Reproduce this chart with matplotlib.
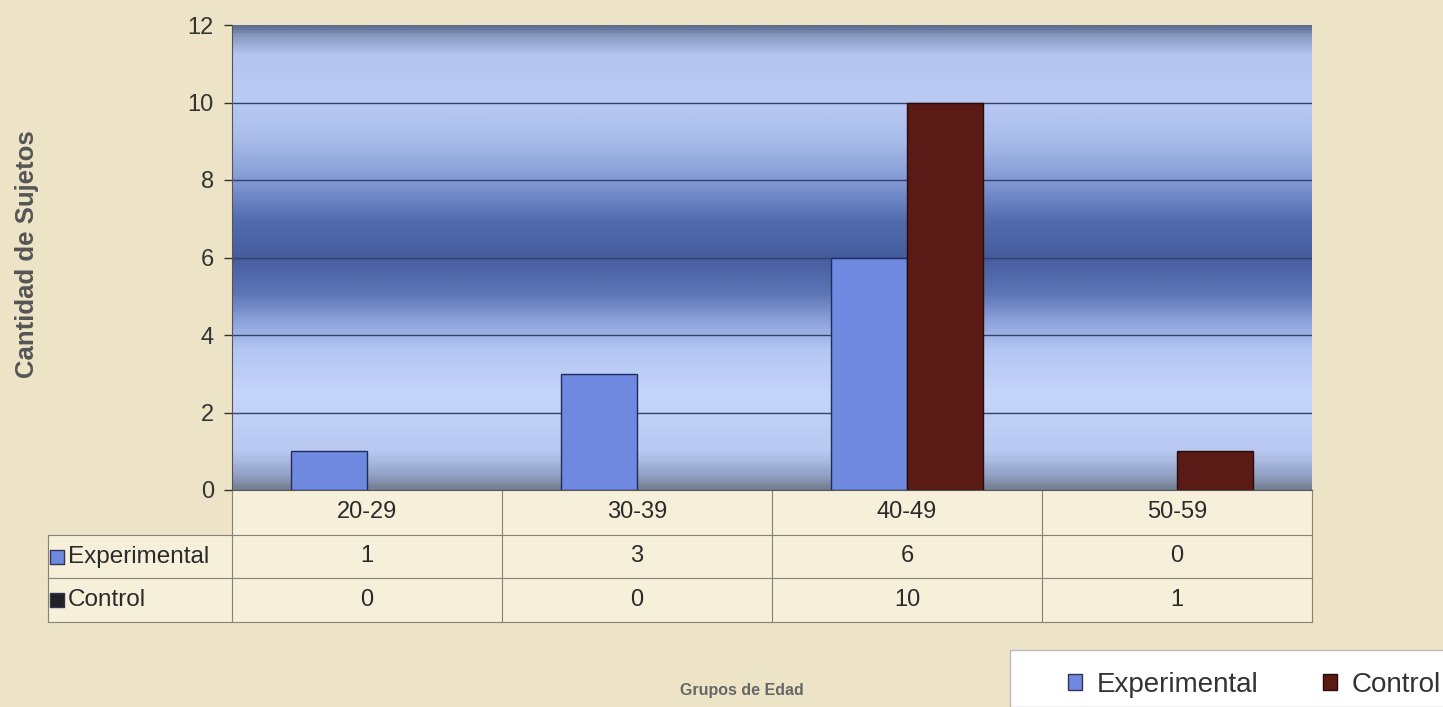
import numpy as np
import matplotlib
matplotlib.use("Agg")
import matplotlib.pyplot as plt
from matplotlib.colors import LinearSegmentedColormap
from matplotlib.patches import Patch, Rectangle

# Datos
grupos = ['20-29', '30-39', '40-49', '50-59']
experimental = [1, 3, 6, 0]
control = [0, 0, 10, 1]
series = ['Experimental', 'Control']

col_exp = '#6f88e0'
col_ctl = '#5a1a16'
fondo = '#ede3c6'
fondo_tabla = '#f6f0da'
linea_tabla = '#85827a'

plt.rcParams['font.family'] = ['Liberation Sans', 'DejaVu Sans']

W, H = 1443, 707
fig = plt.figure(figsize=(W / 100, H / 100), dpi=100, facecolor=fondo)
ax = fig.add_axes([232 / W, 1 - 490 / H, 1080 / W, 465 / H])
ax.set_facecolor('#b8c8f0')

# Degradado del fondo del area de trazado
paradas = [
    (0.00, '#747e92'), (0.03, '#93a3c6'), (0.08, '#b8c8f0'), (0.20, '#c6d5fa'),
    (0.30, '#b4c6f2'), (0.36, '#8ea4dc'), (0.42, '#5e76b6'), (0.50, '#455d9e'),
    (0.58, '#536cae'), (0.66, '#7e96d2'), (0.75, '#a8bbea'), (0.85, '#bccbf4'),
    (0.94, '#b4c4ee'), (0.98, '#8898c0'), (1.00, '#5f6f90'),
]
cmap = LinearSegmentedColormap.from_list('fondo_graf', paradas)
grad = np.linspace(0, 1, 400).reshape(-1, 1)
ax.imshow(grad, cmap=cmap, origin='lower', aspect='auto',
          extent=[-0.5, len(grupos) - 0.5, 0, 12], zorder=0)

# Lineas de division
for yv in range(2, 12, 2):
    ax.axhline(yv, color='#34426a', lw=1.0, zorder=1)

# Barras (sin borde cuando el valor es cero)
x = np.arange(len(grupos))
w = 0.28
ax.bar(x - w / 2, experimental, w, color=col_exp, edgecolor='#1c2c5c',
       linewidth=[1.0 if v else 0 for v in experimental], zorder=2)
ax.bar(x + w / 2, control, w, color=col_ctl, edgecolor='#2a0a08',
       linewidth=[1.0 if v else 0 for v in control], zorder=2)

ax.set_xlim(-0.5, len(grupos) - 0.5)
ax.set_ylim(0, 12)
ax.set_yticks(range(0, 13, 2))
ax.set_xticks([])
ax.tick_params(axis='y', labelsize=17, colors='#333333', length=6, width=1, pad=7)
for s in ['top', 'right']:
    ax.spines[s].set_visible(False)
ax.spines['left'].set_color('#555555')
ax.spines['bottom'].set_color('#555555')

# Tabla de datos (coordenadas de ejes)
n = len(grupos)
y_hdr = -45 / 465
y_r1 = -88 / 465
y_r2 = -132 / 465
x_lab = -184 / 1080
T = ax.transAxes

ax.add_patch(Rectangle((0, y_r2), 1, -y_r2, transform=T, facecolor=fondo_tabla,
                       edgecolor='none', clip_on=False, zorder=0))
ax.add_patch(Rectangle((x_lab, y_r2), -x_lab, y_hdr - y_r2, transform=T,
                       facecolor=fondo_tabla, edgecolor='none', clip_on=False, zorder=0))
for i in range(n + 1):
    ax.plot([i / n, i / n], [0, y_r2], transform=T, color=linea_tabla, lw=0.8, clip_on=False)
ax.plot([x_lab, x_lab], [y_hdr, y_r2], transform=T, color=linea_tabla, lw=0.8, clip_on=False)
for yy in [y_hdr, y_r1, y_r2]:
    ax.plot([x_lab, 1], [yy, yy], transform=T, color=linea_tabla, lw=0.8, clip_on=False)

filas = [experimental, control]
for i, g in enumerate(grupos):
    xc = (i + 0.5) / n
    ax.text(xc, y_hdr / 2, g, transform=T, ha='center', va='center', fontsize=17, color='#2a2a2a')
    for k, (y0, y1) in enumerate([(y_hdr, y_r1), (y_r1, y_r2)]):
        ax.text(xc, (y0 + y1) / 2, str(filas[k][i]), transform=T, ha='center', va='center',
                fontsize=17, color='#2a2a2a')

marcas = [col_exp, '#222222']
for k, (y0, y1) in enumerate([(y_hdr, y_r1), (y_r1, y_r2)]):
    ym = (y0 + y1) / 2
    ax.scatter([-175 / 1080], [ym], marker='s', s=110, color=marcas[k], edgecolor='#333355',
               transform=T, clip_on=False, zorder=5)
    ax.text(-164 / 1080, ym, series[k], transform=T, ha='left', va='center',
            fontsize=17.5, color='#2a2a2a')

# Titulos de ejes
fig.text(0.019, 0.64, 'Cantidad de Sujetos', rotation=90, ha='center', va='center',
         fontsize=18.5, fontweight='bold', color='#555555')
fig.text(0.514, 0.024, 'Grupos de Edad', ha='center', va='center',
         fontsize=11.5, fontweight='bold', color='#666666')

# Leyenda
fig.patches.append(Rectangle((1010 / W, 0), 1, 1 - 650 / H, transform=fig.transFigure,
                             facecolor='white', edgecolor='#bbbbbb', lw=1, zorder=0))
handles = [Patch(facecolor=col_exp, edgecolor='#333355'), Patch(facecolor=col_ctl, edgecolor='#2a0a08')]
leg = fig.legend(handles, series, loc='center left', bbox_to_anchor=(1068 / W, 1 - 685 / H),
                 ncol=2, fontsize=20, frameon=False, borderaxespad=0, borderpad=0,
                 handlelength=0.5, handleheight=0.5, handletextpad=0.55, columnspacing=2.3)
for t in leg.get_texts():
    t.set_color('#333333')

fig.savefig('out.png', dpi=100, facecolor=fondo)
